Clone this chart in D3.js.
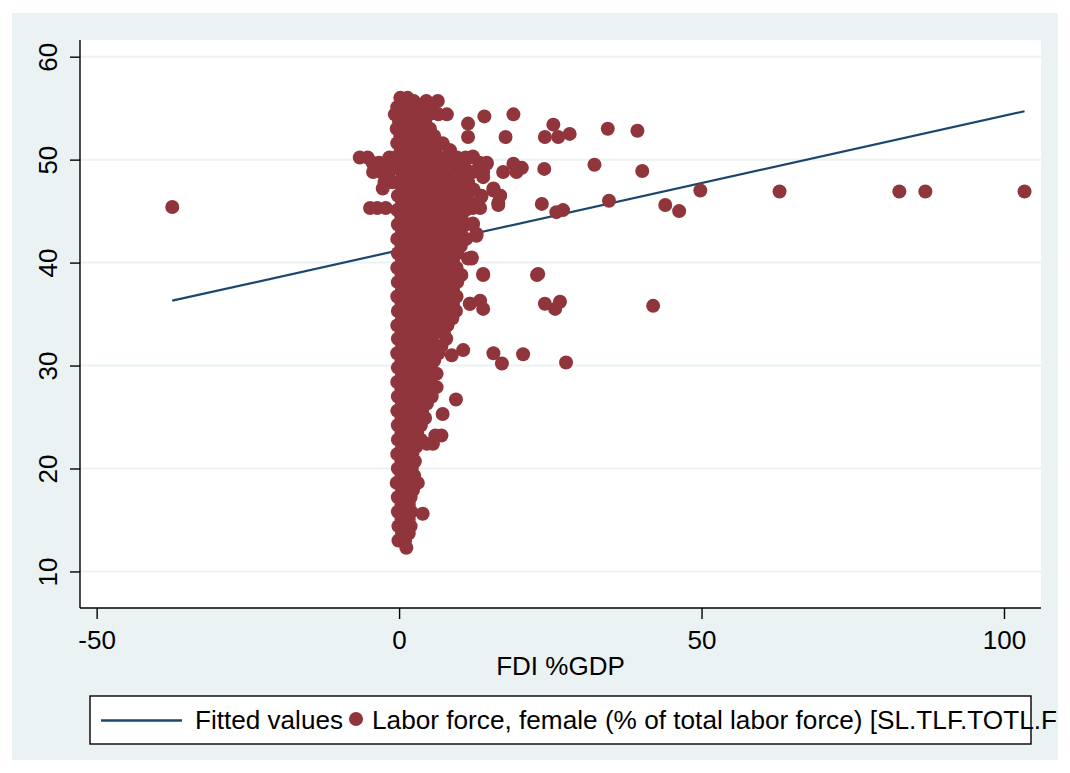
<!DOCTYPE html>
<html>
<head>
<meta charset="utf-8">
<script src="https://cdn.jsdelivr.net/npm/d3@7"></script>
<style>
  html, body { margin: 0; padding: 0; background: #ffffff; }
  svg { display: block; }
  text { font-family: "Liberation Sans", Arial, Helvetica, sans-serif; fill: #000; }
</style>
</head>
<body>
<svg id="chart" width="1070" height="773"></svg>
<script>
// FDI inflows (% of GDP) against the female share of the labour force

const xTicks = [-50, 0, 50, 100];
const yTicks = [10, 20, 30, 40, 50, 60];
const xTitle = "FDI %GDP";
const legendLabels = ["Fitted values", "Labor force, female (% of total labor force) [SL.TLF.TOTL.F"];

// linear fit evaluated at the smallest and the largest FDI value
const fitFdi = [-37.5, 103.4];
const fitLabor = [36.3, 54.7];

// observations grouped by female labour share: [female %, FDI %GDP, FDI %GDP, ...]
const denseRows = [
  [56.0, 0.2, 1.4],
  [55.7, 2.4, 4.5, 6.4],
  [55.1, -0.3, 1.0, 3.2, 5.2],
  [54.4, -0.7, 0.4, 2.0, 3.6, 5.0, 6.5, 7.9],
  [53.7, 0.0, 1.4, 2.9, 4.3],
  [53.0, -0.4, 0.9, 2.3, 3.7, 5.1],
  [52.3, 0.2, 1.6, 3.0, 4.5, 5.8],
  [51.6, -0.3, 1.0, 2.4, 3.8, 5.2, 7.2],
  [50.9, 0.3, 1.7, 3.1, 4.6, 6.0, 8.4],
  [50.2, -6.5, -5.2, -1.6, -0.6, 1.0, 2.4, 3.8, 5.3, 6.7, 9.6, 11.0, 12.2],
  [49.7, -4.4, -3.3, -2.2, 8.0, 13.3, 14.5],
  [49.3, -0.1, 1.3, 2.8, 4.2, 5.6, 7.0, 9.4, 10.8],
  [48.8, -4.3, -3.0, -1.6, 12.2, 13.9],
  [48.5, 0.6, 2.0, 3.5, 4.9, 6.3, 7.7, 9.1, 10.5],
  [47.8, -2.4, -1.1, -0.1, 1.3, 2.8, 4.2, 5.6, 7.0, 8.4, 9.8, 11.4],
  [47.2, -2.7, 15.6],
  [47.1, 0.6, 2.0, 3.5, 4.9, 6.3, 7.7, 9.1, 10.5, 12.3],
  [46.5, -0.2, 1.3, 2.7, 4.2, 5.6, 7.0, 8.4, 9.8, 11.2, 13.6, 16.7],
  [45.8, 0.5, 1.9, 3.4, 4.8, 6.2, 7.6, 9.0, 10.4, 11.8, 16.4],
  [45.3, -4.8, -3.6, -2.2, 12.2, 13.4],
  [45.1, -0.3, 1.2, 2.6, 4.1, 5.5, 6.9, 8.3, 9.7, 11.0],
  [44.4, 0.4, 1.9, 3.3, 4.7, 6.1, 7.5, 8.9, 10.3],
  [43.7, -0.2, 1.2, 2.6, 4.0, 5.4, 6.8, 8.2, 9.6, 11.0, 12.2],
  [43.0, 0.5, 1.9, 3.3, 4.7, 6.1, 7.5, 8.9, 10.2],
  [42.6, 9.8, 12.8],
  [42.3, -0.3, 1.1, 2.5, 3.9, 5.3, 6.7, 8.1, 11.1],
  [41.6, 0.4, 1.8, 3.2, 4.6, 6.0, 7.4, 8.8, 10.2],
  [40.9, -0.2, 1.2, 2.6, 4.0, 5.4, 6.8, 8.2, 9.6],
  [40.4, 11.4, 12.0],
  [40.2, 0.5, 1.9, 3.3, 4.7, 6.1, 7.5, 8.9],
  [39.5, -0.3, 1.1, 2.5, 3.9, 5.3, 6.7, 8.1, 9.5],
  [38.8, 0.4, 1.8, 3.2, 4.6, 6.0, 7.4, 8.8, 10.3, 13.9],
  [38.1, -0.2, 1.2, 2.6, 4.0, 5.4, 6.8, 8.2, 9.6],
  [37.4, 0.5, 1.9, 3.3, 4.7, 6.1, 7.5, 8.9],
  [36.7, -0.3, 1.1, 2.5, 3.9, 5.3, 6.7, 8.1, 9.5],
  [36.0, 0.4, 1.8, 3.2, 4.6, 6.0, 7.4, 8.9, 11.7],
  [35.3, -0.2, 1.2, 2.6, 4.0, 5.4, 6.8, 8.2, 9.4],
  [34.6, 0.5, 1.9, 3.3, 4.7, 6.1, 7.5, 8.8],
  [33.9, -0.3, 1.1, 2.5, 3.9, 5.3, 6.7, 8.0],
  [33.2, 0.4, 1.8, 3.2, 4.6, 6.0, 7.4],
  [32.6, -0.2, 1.2, 2.6, 4.0, 5.4, 7.8],
  [31.9, 0.5, 1.9, 3.3, 4.7, 6.1, 7.0],
  [31.2, -0.3, 1.1, 2.5, 3.9, 5.3, 6.5],
  [30.5, 0.4, 1.8, 3.2, 4.6, 5.8],
  [29.8, -0.2, 1.2, 2.6, 4.0, 5.3],
  [29.2, 6.2],
  [29.1, 0.5, 1.9, 3.3, 4.7],
  [28.4, -0.3, 1.1, 2.5, 3.9, 5.2],
  [27.9, 6.2],
  [27.7, 0.4, 1.8, 3.2, 4.6],
  [27.0, -0.2, 1.2, 2.6, 4.0, 5.4],
  [26.7, 9.4],
  [26.3, 0.5, 1.9, 3.3, 4.6],
  [25.6, -0.3, 1.1, 2.5, 3.8],
  [25.3, 7.2],
  [24.9, 0.4, 1.8, 3.1, 4.3],
  [24.2, -0.2, 1.2, 2.5, 3.6],
  [23.5, 0.4, 1.8, 3.0],
  [23.2, 7.0, 6.0],
  [22.8, -0.2, 1.2, 2.4, 3.6],
  [22.4, 5.6, 4.6],
  [22.1, 0.5, 1.8, 2.8],
  [21.4, -0.3, 1.0, 2.2],
  [20.7, 0.4, 1.7, 2.6],
  [20.0, -0.2, 1.1, 2.1],
  [19.3, 0.4, 1.6, 2.5],
  [18.6, -0.4, 1.0, 2.2, 3.1],
  [17.9, 0.5, 1.6, 2.3],
  [17.2, -0.2, 1.0, 1.9],
  [16.5, 0.4, 1.6],
  [15.8, -0.2, 1.0, 2.0],
  [15.6, 3.9],
  [15.1, 0.4, 1.6],
  [14.4, -0.1, 1.1, 1.9],
  [13.7, 0.5, 1.6],
  [13.0, -0.1, 1.0],
  [12.3, 1.2]
];

// scattered observations: [FDI %GDP, female %]
const spreadObs = [
  [-37.5, 45.4],
  [11.4, 53.5], [11.4, 52.2], [14.1, 54.2], [18.9, 54.4], [17.6, 52.2], [24.1, 52.2],
  [25.5, 53.4], [26.3, 52.2], [28.2, 52.5], [34.5, 53.0], [39.4, 52.8],
  [8.4, 50.9], [12.2, 50.3], [14.5, 49.6], [13.9, 48.3], [17.2, 48.8], [18.9, 49.6],
  [20.3, 49.2], [19.4, 48.8], [24.0, 49.1], [32.3, 49.5], [40.2, 48.9],
  [15.6, 47.0], [16.7, 46.5], [13.6, 46.4], [16.4, 45.6], [12.2, 45.4], [23.6, 45.7],
  [26.0, 44.9], [27.1, 45.1], [34.7, 46.0], [44.0, 45.6], [46.3, 45.0], [49.8, 47.0],
  [62.9, 46.9], [82.7, 46.9], [87.0, 46.9], [103.4, 46.9],
  [12.2, 43.8], [12.8, 42.8], [12.0, 40.5], [9.8, 42.5], [13.9, 38.9], [23.0, 38.9], [22.8, 38.8],
  [11.7, 36.0], [13.4, 36.3], [13.9, 35.5], [24.1, 36.0], [25.8, 35.5], [26.6, 36.2], [42.0, 35.8],
  [15.6, 31.2], [17.0, 30.2], [20.5, 31.1], [27.6, 30.3], [10.6, 31.5], [8.7, 31.0]
];

// ---------------------------------------------------------------
const BG = "#eaf2f3";
const NAVY = "#1a476f";
const MAROON = "#90353b";
const FONT = 26;

const plot = { left: 80, right: 1041, top: 40, bottom: 608 };

const svg = d3.select("#chart");

// outer graph region
svg.append("rect").attr("x", 12).attr("y", 13).attr("width", 1046).attr("height", 747).attr("fill", BG);
// plot region
svg.append("rect")
  .attr("x", plot.left).attr("y", plot.top)
  .attr("width", plot.right - plot.left).attr("height", plot.bottom - plot.top)
  .attr("fill", "#ffffff");

const x = d3.scaleLinear().domain([-52.75, 106.12]).range([plot.left, plot.right]);
const y = d3.scaleLinear().domain([6.45, 61.62]).range([plot.bottom, plot.top]);

// plain hyphen for negative tick values
const tickText = d => String(d);

// horizontal grid
svg.append("g").selectAll("line").data(yTicks).join("line")
  .attr("x1", plot.left).attr("x2", plot.right)
  .attr("y1", d => y(d)).attr("y2", d => y(d))
  .attr("stroke", BG).attr("stroke-width", 2);

// fitted line
svg.append("path")
  .datum(fitFdi.map((f, i) => [f, fitLabor[i]]))
  .attr("fill", "none").attr("stroke", NAVY).attr("stroke-width", 2.2)
  .attr("d", d3.line().x(d => x(d[0])).y(d => y(d[1])));

// observations
const points = [];
denseRows.forEach(r => r.slice(1).forEach(f => points.push([f, r[0]])));
spreadObs.forEach(p => points.push(p));

svg.append("g").selectAll("circle").data(points).join("circle")
  .attr("cx", d => x(d[0])).attr("cy", d => y(d[1]))
  .attr("r", 7).attr("fill", MAROON);

// y axis
const yAxis = svg.append("g").attr("transform", `translate(${plot.left},0)`)
  .call(d3.axisLeft(y).tickValues(yTicks).tickSize(10).tickPadding(0).tickFormat(tickText));
yAxis.select(".domain").attr("d", `M0,${plot.top}V${plot.bottom}`).attr("stroke", "#000").attr("stroke-width", 1.4);
yAxis.selectAll(".tick line").attr("stroke", "#000").attr("stroke-width", 1.4);
yAxis.selectAll(".tick text")
  .attr("x", null).attr("dy", null)
  .attr("text-anchor", "middle")
  .attr("transform", "translate(-23,0) rotate(-90)")
  .style("font-size", FONT + "px")
  .style("font-family", '"Liberation Sans", Arial, sans-serif')
  .attr("fill", "#000");

// x axis
const xAxis = svg.append("g").attr("transform", `translate(0,${plot.bottom})`)
  .call(d3.axisBottom(x).tickValues(xTicks).tickSize(11).tickPadding(0).tickFormat(tickText));
xAxis.select(".domain").attr("d", `M${plot.left},0H${plot.right}`).attr("stroke", "#000").attr("stroke-width", 1.4);
xAxis.selectAll(".tick line").attr("stroke", "#000").attr("stroke-width", 1.4);
xAxis.selectAll(".tick text")
  .attr("y", 41).attr("dy", null)
  .style("font-size", FONT + "px")
  .style("font-family", '"Liberation Sans", Arial, sans-serif')
  .attr("fill", "#000");

svg.append("text")
  .attr("x", (plot.left + plot.right) / 2).attr("y", 675)
  .attr("text-anchor", "middle").style("font-size", FONT + "px")
  .text(xTitle);

// legend (the long series label runs past the frame)
const lg = svg.append("g");
lg.append("rect").attr("x", 90).attr("y", 696).attr("width", 941).attr("height", 48)
  .attr("fill", "#ffffff").attr("stroke", "#000").attr("stroke-width", 1.4);
lg.append("line").attr("x1", 101).attr("x2", 182).attr("y1", 720.5).attr("y2", 720.5)
  .attr("stroke", NAVY).attr("stroke-width", 2.6);
lg.append("text").attr("x", 195).attr("y", 729).style("font-size", FONT + "px")
  .attr("textLength", 148).attr("lengthAdjust", "spacingAndGlyphs").text(legendLabels[0]);
lg.append("circle").attr("cx", 356).attr("cy", 719).attr("r", 7).attr("fill", MAROON);
lg.append("text").attr("x", 372).attr("y", 729).style("font-size", FONT + "px")
  .attr("textLength", 685).attr("lengthAdjust", "spacingAndGlyphs").text(legendLabels[1]);
</script>
</body>
</html>
